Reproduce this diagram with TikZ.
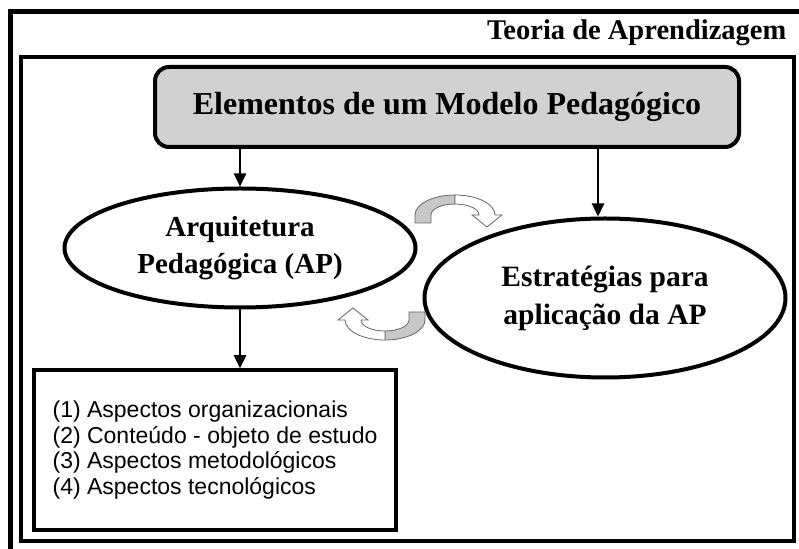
\documentclass[tikz,border=0pt]{standalone}
\usepackage{fontspec}
\setmainfont{Liberation Serif}
\newfontfamily\listfont{Liberation Sans}
\usetikzlibrary{arrows.meta,shapes.geometric,positioning}

\tikzset{
	swaparrow/.pic={
		\filldraw[draw=black!60,fill=black!22,line width=0.8pt] (-40,-8) -- (-40,0) arc[start angle=180,end angle=90,x radius=40,y radius=20] -- (0,11) arc[start angle=90,end angle=180,x radius=24,y radius=11] -- (-24,-8) -- cycle;
		\filldraw[draw=black!60,fill=white,line width=0.8pt] (0,20) arc[start angle=90,end angle=0,x radius=40,y radius=20] -- (47,0) -- (32,-12) -- (17,0) -- (24,0) arc[start angle=0,end angle=90,x radius=24,y radius=11] -- cycle;
	}
}

\begin{document}
\begin{tikzpicture}[x=1pt,y=1pt,>={Triangle[length=13pt,width=12pt]},thick,
	main node/.style={ellipse,draw,line width=4pt,inner sep=0pt,align=center,font=\bfseries\fontsize{29}{37}\selectfont},
	top node/.style={rectangle,draw,line width=4pt,fill=black!18,rounded corners=14pt,minimum width=584pt,minimum height=80pt,font=\bfseries\fontsize{32}{38}\selectfont},
	list node/.style={rectangle,draw,line width=3.5pt,minimum width=362pt,minimum height=160pt,align=left,font=\listfont\fontsize{23}{25.5}\selectfont}]
	\useasboundingbox (0,0) rectangle (799,548);
	%molduras
	\draw[line width=5pt] (10,-20) rectangle (815,536);
	\draw[line width=4pt] (21,7) rectangle (794,491);
	\node[anchor=east,font=\bfseries\fontsize{28.5}{32}\selectfont] (0) at (790,515) {Teoria de Aprendizagem};
	
	\node[top node] (1) at (447,441) {Elementos de um Modelo Pedag\'ogico};
	\node[main node,minimum width=351pt,minimum height=119pt] (2) at (240,300) {Arquitetura\\Pedag\'ogica (AP)};
	\node[main node,minimum width=361pt,minimum height=159pt,font=\bfseries\fontsize{29.5}{38}\selectfont] (3) at (605,250) {Estrat\'egias para\\aplica\c{c}\~ao da AP};
	\node[list node] (4) at (215,98) {(1) Aspectos organizacionais\\(2) Conte\'udo - objeto de estudo\\(3) Aspectos metodol\'ogicos\\(4) Aspectos tecnol\'ogicos};
	\coordinate (a3) at (598,0);
	
	\path[->,line width=2.5pt]
	(1.south -| 2.north) edge (2.north)
	(1.south -| a3) edge (3.north -| a3)
	(2.south) edge (4.north -| 2.south)
	;
	
	\pic at (455,333) {swaparrow};
	\pic[rotate=180] at (385,228) {swaparrow};
\end{tikzpicture}
\end{document}
